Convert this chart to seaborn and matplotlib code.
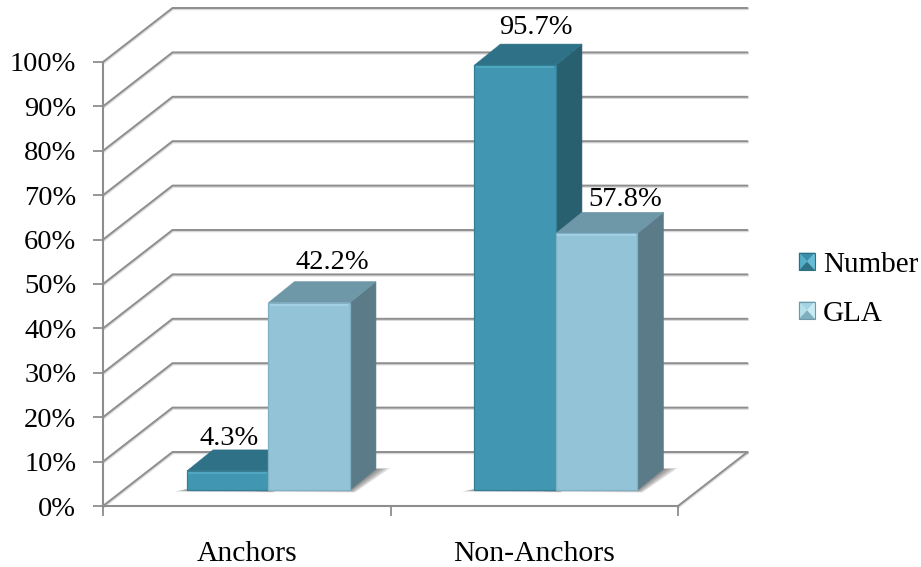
import matplotlib
matplotlib.use("Agg")
import matplotlib.pyplot as plt
import matplotlib.patheffects as pe
from matplotlib.legend_handler import HandlerBase
from matplotlib.patches import Polygon, Rectangle
import pandas as pd
import seaborn as sns

categories = ["Anchors", "Non-Anchors"]
series_names = ["Number", "GLA"]
number_values = [4.3, 95.7]
gla_values = [42.2, 57.8]
percent_ticks = [0, 10, 20, 30, 40, 50, 60, 70, 80, 90, 100]

front_colors = {"Number": "#4197B1", "GLA": "#92C3D7"}
edge_colors = {"Number": "#357F96", "GLA": "#7FB2C6"}
rim_colors = {"Number": "#4FA6BF", "GLA": "#A2D0E2"}
side_colors = {"Number": "#296070", "GLA": "#5C7B88"}
top_colors = {"Number": "#2F7287", "GLA": "#6E97A8"}
swatch_colors = {
    "Number": ("#3A90AA", "#54AEC8", "#66BDD5", "#2C7388", "#2F6F83"),
    "GLA": ("#A4D4E4", "#B4DFEB", "#C8EBF3", "#7FAEBE", "#6F97A6"),
}
GRID = "#8E8E8E"
VALUE_SIZE = 20.5
CATEGORY_SIZE = 21.3
LEGEND_SIZE = 21

W, H = 921, 567
sns.set_theme(style="white")
plt.rcParams["font.family"] = ["Liberation Serif", "DejaVu Serif"]
plt.rcParams["text.color"] = "black"

df = pd.DataFrame({
    "category": categories * 2,
    "series": [series_names[0]] * 2 + [series_names[1]] * 2,
    "share": number_values + gla_values,
})

fig = plt.figure(figsize=(W / 100, H / 100), dpi=100, facecolor="white")


def axes_rect(left, right, top, bottom):
    """Axes rectangle from pixel edges measured from the top-left corner."""
    return [left / W, 1 - bottom / H, (right - left) / W, (bottom - top) / H]


# Front plane of the box: the axis lines, ticks and labels live here.
ax = fig.add_axes(axes_rect(103, 678, 62, 506), facecolor="none")
ax.set_xlim(-0.5, 1.5)
ax.set_ylim(0, 100)
px_x = 2 / 575
px_y = 100 / 444

# Receding wall and floor lines.
wall_dx, wall_dy = 69.5 * px_x, 54 * px_y
line_fx = [pe.SimpleLineShadow(offset=(0.4, -0.9), alpha=0.22, shadow_color="#555555"), pe.Normal()]
for v in percent_ticks:
    ax.plot([-0.5, -0.5 + wall_dx, 1.5 + wall_dx], [v, v + wall_dy, v + wall_dy],
            color=GRID, lw=1.4, clip_on=False, path_effects=line_fx, zorder=1,
            solid_joinstyle="miter")
ax.plot([1.5, 1.5 + wall_dx], [0, wall_dy], color=GRID, lw=1.4, clip_on=False,
        path_effects=line_fx, zorder=1)

for name in ("top", "right"):
    ax.spines[name].set_visible(False)
for name in ("left", "bottom"):
    ax.spines[name].set_color(GRID)
    ax.spines[name].set_linewidth(1.5)

ax.set_yticks(percent_ticks)
ax.set_yticklabels([f"{v}%" for v in percent_ticks], fontsize=VALUE_SIZE, color="black")
ax.set_xticks([0, 1])
ax.set_xticklabels(categories, fontsize=CATEGORY_SIZE, color="black")
ax.set_xticks([-0.5, 0.5, 1.5], minor=True)
ax.tick_params(axis="y", left=True, length=7.2, width=1.3, color=GRID, pad=12)
ax.tick_params(axis="x", which="major", bottom=False, pad=19)
ax.tick_params(axis="x", which="minor", bottom=True, length=7.2, width=1.3, color=GRID)
for tick_label in ax.get_yticklabels():
    tick_label.set_y(tick_label.get_position()[1])

# Bars sit partway into the box, so their axes are the front plane shifted back.
bar_ax = fig.add_axes(axes_rect(103 + 21.7, 678 + 21.7, 62 - 16, 506 - 16), facecolor="none")
sns.barplot(data=df, x="category", y="share", hue="series", hue_order=series_names,
            order=categories, palette=front_colors, width=0.567, saturation=1,
            gap=0, ax=bar_ax, legend=False)
bar_ax.set_xlim(-0.5, 1.5)
bar_ax.set_ylim(0, 100)
bar_ax.axis("off")

depth_x, depth_y = 26 * px_x, 21 * px_y
bars = [(series_names[0], p) for p in bar_ax.containers[0]] + \
       [(series_names[1], p) for p in bar_ax.containers[1]]

for order, (name, bar) in enumerate(bars):
    x0, y0 = bar.get_x(), bar.get_y()
    w, h = bar.get_width(), bar.get_height()
    x1, y1 = x0 + w, y0 + h
    layer = 3 + (order // 2) * 2

    # Soft shadow cast on the floor, built from stacked translucent shapes.
    for grow in (1.0, 0.75, 0.5, 0.25):
        gx, gy = grow * 14 * px_x, grow * 3 * px_y
        bar_ax.add_patch(Polygon(
            [(x0 - gx * 0.9, y0 - gy * 0.5), (x1 + gx * 0.35, y0 - gy * 0.8),
             (x1 + depth_x + gx, y0 + depth_y + gy * 0.3), (x1 + depth_x * 0.5, y0 + depth_y)],
            closed=True, facecolor="#303030", edgecolor="none", alpha=0.17, zorder=1.5,
            clip_on=False))

    bar_ax.add_patch(Polygon(
        [(x1, y0), (x1 + depth_x, y0 + depth_y), (x1 + depth_x, y1 + depth_y), (x1, y1)],
        closed=True, facecolor=side_colors[name], edgecolor=side_colors[name], lw=0.4,
        zorder=layer, clip_on=False))
    bar_ax.add_patch(Polygon(
        [(x0, y1), (x1, y1), (x1 + depth_x, y1 + depth_y), (x0 + depth_x, y1 + depth_y)],
        closed=True, facecolor=top_colors[name], edgecolor=top_colors[name], lw=0.4,
        zorder=layer, clip_on=False))

    bar.set_edgecolor(edge_colors[name])
    bar.set_linewidth(0.9)
    bar.set_zorder(layer + 1)
    bar.set_clip_on(False)
    # Lighter bevel along the top of the front face.
    bar_ax.add_patch(Rectangle((x0 + 1.5 * px_x, y1 - 3 * px_y), w - 3 * px_x, 2 * px_y,
                               facecolor=rim_colors[name], edgecolor="none",
                               zorder=layer + 1.5, clip_on=False))

# Value labels, positioned in pixels from the top-centre of each front face.
label_nudges = {
    ("Number", 0): (1.5, 32), ("GLA", 0): (23, 40),
    ("Number", 1): (21, 38), ("GLA", 1): (28, 34),
}
for order, (name, bar) in enumerate(bars):
    value = bar.get_height()
    nudge_x, nudge_y = label_nudges[(name, order % 2)]
    bar_ax.annotate(f"{value:.1f}%", (bar.get_x() + bar.get_width() / 2, value),
                    xytext=(nudge_x * 0.72, nudge_y * 0.72), textcoords="offset points",
                    ha="center", va="center", fontsize=VALUE_SIZE, color="black",
                    annotation_clip=False, zorder=20)


class PyramidSwatch(HandlerBase):
    """Legend key drawn as a square bevelled into four shaded triangles."""

    def create_artists(self, legend, orig_handle, xdescent, ydescent, width, height,
                       fontsize, trans):
        top, left, right, bottom, rim = swatch_colors[orig_handle.get_label()]
        xa, xb = -xdescent, -xdescent + width
        ya, yb = -ydescent, -ydescent + height
        cx, cy = (xa + xb) / 2, (ya + yb) / 2
        faces = [
            ([(xa, yb), (xb, yb), (cx, cy)], top),
            ([(xa, ya), (xa, yb), (cx, cy)], left),
            ([(xb, ya), (xb, yb), (cx, cy)], right),
            ([(xa, ya), (xb, ya), (cx, cy)], bottom),
        ]
        artists = [Polygon(pts, closed=True, facecolor=c, edgecolor=c, lw=0.2, transform=trans)
                   for pts, c in faces]
        artists.append(Rectangle((xa, ya), width, height, facecolor="none", edgecolor=rim,
                                 lw=0.8, transform=trans))
        return artists


handles = [Rectangle((0, 0), 1, 1, label=n) for n in series_names]
fig.legend(handles=handles, labels=series_names, loc="upper left",
           bbox_to_anchor=(799 / W, 1 - 252 / H), frameon=False, fontsize=LEGEND_SIZE,
           handler_map={Rectangle: PyramidSwatch()}, handlelength=0.55, handleheight=0.55,
           handletextpad=0.27, labelspacing=0.78, borderpad=0, borderaxespad=0)

fig.savefig("out.png", dpi=100)
